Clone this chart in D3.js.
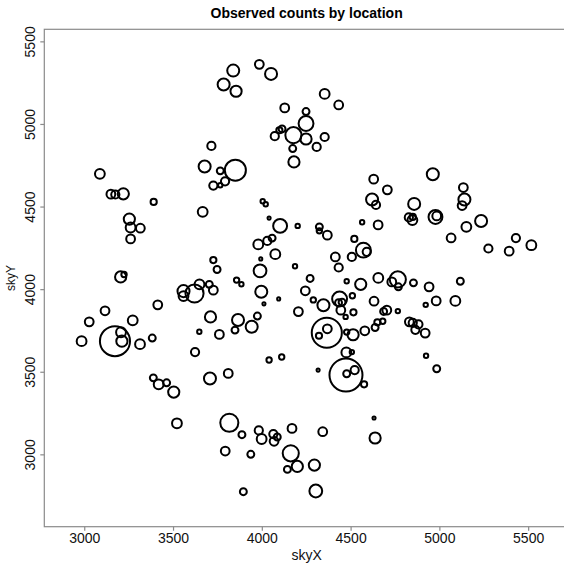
<!DOCTYPE html>
<html>
<head>
<meta charset="utf-8">
<script src="https://cdn.jsdelivr.net/npm/d3@7"></script>
<style>
  body { margin: 0; background: #fff; }
  text { font-family: "Liberation Sans", Arial, sans-serif; }
</style>
</head>
<body>
<div id="chart"></div>
<script>
const width = 564;
const height = 563;

// sky positions and observed counts
const skyX = [
  3088, 3150, 3175, 3220, 3391, 3254, 3261, 3316, 3261, 3205, 3224, 3414, 3117, 3028, 3273, 2985,
  3173, 3212, 3207, 3314, 3383, 3389, 3419, 3464, 3504, 3522, 3624, 3648, 3559, 3559, 3621, 3649,
  3839, 3986, 4052, 3785, 3855, 4354, 4433, 4129, 4249, 4249, 4114, 4099, 4073, 4178, 4249, 4354,
  4309, 4174, 4181, 3716, 3678, 3851, 3766, 3793, 3727, 3766, 3667, 4005, 4022, 4041, 4103, 4202,
  3980, 4031, 4058, 4076, 3990, 3727, 3748, 3994, 4187, 4324, 4324, 4369, 4521, 4565, 4655, 4630,
  4621, 4643, 4572, 4591, 4507, 4414, 4433, 4272, 4656,
  3858, 3885, 3997, 4012, 4095, 4245, 4290, 4347, 4438, 4432, 4452, 4445, 4478, 4510, 4557, 4632,
  4472, 4516, 4206, 3711, 3866, 3943, 3849, 3761, 3975, 3704, 3727, 4681, 4651, 4638, 4580, 4514,
  4478, 4366, 4369, 4322, 4476, 4507, 4474, 4478, 4523, 4576, 4317, 4112, 4041, 3708, 3811, 3817,
  3888, 3983, 3999, 4065, 4087, 4069, 4170, 4343, 3794, 3938, 4163, 4200, 4144, 4296, 3896, 4304,
  4632, 4638,
  4963, 4707, 4858, 5135, 5141, 5128, 4828, 4850, 4848, 4978, 4985, 5235, 5152, 5066, 5276, 5393,
  5431, 5518, 4766, 4732, 4769, 4854, 4942, 5118, 5090, 4982, 4923, 4704, 4686, 4766, 4831, 4850,
  4882, 4865, 4920, 4925, 4985
];

const skyY = [
  4698, 4575, 4573, 4577, 4528, 4424, 4373, 4369, 4304, 4074, 4089, 3905, 3869, 3802, 3811, 3685,
  3685, 3685, 3739, 3667, 3704, 3463, 3424, 3433, 3377, 3188, 3619, 3742, 3988, 3958, 3974, 4029,
  5323, 5361, 5303, 5239, 5198, 5182, 5115, 5097, 5075, 5003, 4970, 4962, 4926, 4932, 4909, 4921,
  4861, 4851, 4770, 4867, 4742, 4720, 4716, 4653, 4627, 4629, 4468, 4532, 4514, 4430, 4383, 4383,
  4271, 4292, 4309, 4212, 4111, 4176, 4119, 4183, 4139, 4377, 4353, 4327, 4304, 4405, 4389, 4666,
  4543, 4510, 4236, 4226, 4195, 4195, 4131, 4065, 4068,
  4055, 4030, 3984, 3911, 3941, 3990, 3935, 3903, 3940, 3918, 3921, 3873, 4048, 3960, 4029, 3927,
  3832, 3860, 3864, 3832, 3813, 3772, 3752, 3726, 3837, 4029, 3994, 3806, 3799, 3768, 3748, 3724,
  3740, 3736, 3760, 3718, 3617, 3619, 3480, 3488, 3510, 3424, 3510, 3589, 3571, 3459, 3490, 3191,
  3119, 3145, 3093, 3123, 3105, 3079, 3157, 3137, 3020, 3000, 3006, 2927, 2909, 2935, 2774, 2778,
  3220, 3099,
  4696, 4601, 4516, 4615, 4543, 4506, 4434, 4437, 4418, 4437, 4443, 4413, 4377, 4310, 4246, 4230,
  4309, 4266, 4059, 4044, 4014, 4038, 4014, 4048, 3929, 3929, 3905, 3873, 3865, 3867, 3802, 3796,
  3787, 3754, 3734, 3597, 3518
];

const counts = [
  10, 8, 7, 13, 4, 13, 10, 8, 8, 13, 3, 8, 8, 8, 10, 10,
  94, 13, 10, 10, 5, 5, 10, 5, 13, 10, 7, 2, 15, 10, 34, 10,
  15, 8, 15, 15, 13, 10, 8, 8, 5, 23, 5, 4, 7, 27, 13, 7,
  7, 5, 13, 7, 15, 46, 5, 7, 7, 2, 10, 2, 2, 1, 20, 2,
  10, 7, 5, 10, 17, 4, 5, 1, 2, 5, 3, 8, 4, 2, 8, 8,
  15, 7, 23, 7, 7, 8, 7, 5, 10,
  3, 2, 15, 1, 1, 8, 3, 15, 23, 5, 5, 8, 2, 3, 13, 8,
  2, 4, 8, 13, 15, 15, 5, 8, 5, 5, 8, 3, 4, 5, 8, 13,
  3, 94, 8, 4, 10, 2, 113, 5, 7, 4, 1, 3, 3, 15, 8, 34,
  5, 7, 10, 7, 5, 8, 8, 8, 8, 5, 27, 13, 5, 13, 5, 17,
  1, 13,
  15, 8, 15, 8, 15, 8, 7, 4, 10, 20, 8, 15, 10, 8, 7, 8,
  7, 10, 27, 8, 5, 5, 8, 5, 10, 8, 2, 8, 5, 2, 8, 7,
  7, 7, 8, 2, 5
];

const xTicks = [3000, 3500, 4000, 4500, 5000, 5500];
const yTicks = [3000, 3500, 4000, 4500, 5000, 5500];

const data = skyX.map((x, i) => ({ skyX: x, skyY: skyY[i], count: counts[i] }));

let svg = d3.select("#chart").append("svg")
    .attr("width", width)
    .attr("height", height);

// plot box runs past the right edge of the picture
const plotLeft = 44.3, plotTop = 29.3, plotBottom = 526.7, plotRight = 569;

let xScale = d3.scaleLinear()
    .domain([2775, 5730])
    .range([plotLeft, plotRight]);

let yScale = d3.scaleLinear()
    .domain([2562, 5573])
    .range([plotBottom, plotTop]);

let rScale = d3.scaleSqrt()
    .domain([0, 113])
    .range([0, 16.5]);

const axisGrey = "#8a8a8a";

svg.append("rect")
    .attr("x", plotLeft)
    .attr("y", plotTop)
    .attr("width", plotRight - plotLeft)
    .attr("height", plotBottom - plotTop)
    .attr("fill", "none")
    .attr("stroke", axisGrey)
    .attr("stroke-width", 1.2);

let xAxis = svg.append("g")
    .attr("transform", "translate(0," + plotBottom + ")")
    .call(d3.axisBottom(xScale).tickValues(xTicks).tickFormat(d3.format("d"))
        .tickSize(4).tickPadding(2).tickSizeOuter(0));

let yAxis = svg.append("g")
    .attr("transform", "translate(" + plotLeft + ",0)")
    .call(d3.axisLeft(yScale).tickValues(yTicks).tickFormat(d3.format("d"))
        .tickSize(4).tickSizeOuter(0));

xAxis.select(".domain").remove();
yAxis.select(".domain").remove();
svg.selectAll(".tick line").attr("stroke", axisGrey).attr("stroke-width", 1.2);

xAxis.selectAll(".tick text")
    .style("font-size", "14px")
    .style("font-family", "Liberation Sans, Arial, sans-serif")
    .attr("fill", "#111");

// R style: y tick labels run parallel to the axis
yAxis.selectAll(".tick text")
    .style("font-size", "14px")
    .style("font-family", "Liberation Sans, Arial, sans-serif")
    .attr("fill", "#111")
    .attr("text-anchor", "middle")
    .attr("x", 0)
    .attr("dy", 0)
    .attr("transform", "translate(-9.5,0) rotate(-90)");

svg.append("text")
    .attr("x", (plotLeft + plotRight) / 2)
    .attr("y", 18)
    .attr("text-anchor", "middle")
    .style("font-size", "14px")
    .style("font-weight", "bold")
    .text("Observed counts by location");

svg.append("text")
    .attr("x", (plotLeft + plotRight) / 2)
    .attr("y", 560)
    .attr("text-anchor", "middle")
    .style("font-size", "14px")
    .attr("fill", "#111")
    .text("skyX");

svg.append("text")
    .attr("transform", `translate(14.5, ${(plotTop + plotBottom) / 2}) rotate(-90)`)
    .attr("text-anchor", "middle")
    .style("font-size", "12px")
    .attr("fill", "#111")
    .text("skyY");

svg.append("g")
    .selectAll("circle")
    .data(data)
    .enter()
    .append("circle")
    .attr("cx", d => xScale(d.skyX))
    .attr("cy", d => yScale(d.skyY))
    .attr("r", d => rScale(d.count))
    .attr("fill", "none")
    .attr("stroke", "black")
    .attr("stroke-width", 2);
</script>
</body>
</html>
